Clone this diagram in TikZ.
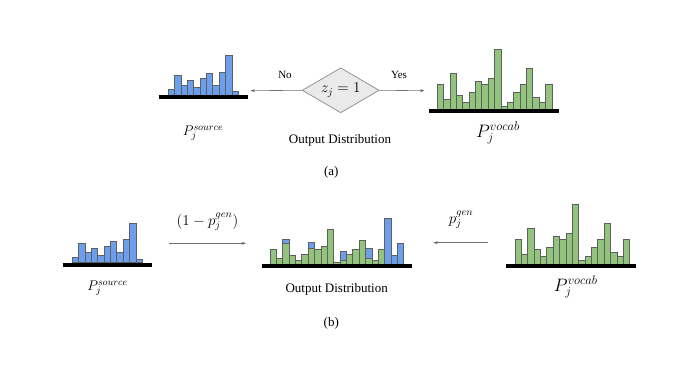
\RequirePackage{fix-cm}
\documentclass[tikz,border=0pt]{standalone}
\usepackage{fontspec}
\setmainfont{Liberation Serif}
\usetikzlibrary{arrows.meta,shapes.geometric}
\definecolor{barblue}{HTML}{6D9EEB}
\definecolor{bargreen}{HTML}{93C47D}
\definecolor{edgegray}{HTML}{5F5F5F}
\definecolor{arrowgray}{HTML}{6E6E6E}
\definecolor{diafill}{HTML}{EAEAEA}
\definecolor{diaedge}{HTML}{8A8A8A}
\tikzset{
  bar/.style={draw=edgegray, line width=0.8pt},
  baseline bar/.style={line width=4pt, black},
  conn/.style={draw=arrowgray, line width=0.6pt, -{Stealth[length=4.5pt,width=3pt]}},
  txt/.style={inner sep=0pt, font=\fontsize{13}{15}\selectfont},
  small/.style={inner sep=0pt, font=\fontsize{11}{13}\selectfont},
}
\newcommand\histbars[4]{%
  \foreach \h [count=\i from 0] in {#4} {
    \draw[bar, fill=#3] ({#1+\i*6.37}, #2) rectangle ++(6.37, -\h);
  }%
}
\begin{document}
\begin{tikzpicture}[x=1pt, y=-1pt]
\useasboundingbox (0,0) rectangle (675,380);

% ---------- (a) ----------
\histbars{168.3}{95}{barblue}{5.3,19.3,10,14.7,7.3,16.7,21.3,10,23,39.3,3.3}
\draw[baseline bar] (159.3,97) -- (247.7,97);
\histbars{437.3}{109.3}{bargreen}{25,10,35.7,14.3,7.3,17,28,25,31,59.7,3.3,7.3,17,25,41,12,7.3,25}
\draw[baseline bar] (429,111.3) -- (559,111.3);

\node[diamond, draw=diaedge, fill=diafill, line width=0.7pt, inner sep=0pt,
      minimum width=77pt, minimum height=45pt, aspect=1.71,
      font=\fontsize{15}{17}\selectfont] (dia) at (340.7,90.3) {$z_j = 1$};
\coordinate (srcA) at (250.5,90.7);
\coordinate (vocA) at (424.5,90.7);
\draw[conn] (dia.west) -- (srcA);
\draw[conn] (dia.east) -- (vocA);
\node[small] (no) at (285,75) {No};
\node[small] (yes) at (399,75) {Yes};

\node[inner sep=0pt, font=\fontsize{14}{16}\selectfont] (psrcA) at (203,133) {$P_j^{source}$};
\node[txt] (outA) at (340,140) {Output Distribution};
\node[inner sep=0pt, font=\fontsize{18}{20}\selectfont] (pvocA) at (498,133) {$P_j^{vocab}$};
\node[txt] (capA) at (331.3,172) {(a)};

% ---------- (b) ----------
\histbars{72.3}{262.7}{barblue}{5.3,19.3,10,14.7,7.3,16.7,21.3,10,23,39.3,3.3}
\draw[baseline bar] (63.3,264.7) -- (151.7,264.7);
\histbars{515}{264}{bargreen}{25,10,35.7,14.3,7.3,17,28,25,31,59.7,3.3,7.3,17,25,41,12,7.3,25}
\draw[baseline bar] (506,266) -- (635.7,266);

% output distribution: green part then blue caps
\histbars{270}{264}{bargreen}{14.7,5.7,20.3,8.3,3.7,9.7,16,14.7,18,34.7,1.7,3.7,9.7,14.7,24,5.7,3.7,14.7}
\foreach \i/\b/\t in {2/20.3/24.7, 6/16/21.7, 11/3.7/12.7, 15/5.7/16, 18/0/45.7, 19/0/8.7, 20/0/20.7}{
  \draw[bar, fill=barblue] ({270+\i*6.37}, {264-\b}) rectangle ++(6.37, {-(\t-\b)});
}
\draw[baseline bar] (261.7,265.8) -- (412.3,265.8);

\coordinate (l1) at (169.3,243.3);
\coordinate (l2) at (246,243.3);
\coordinate (r1) at (488.3,242.7);
\coordinate (r2) at (433.3,242.7);
\draw[conn] (l1) -- (l2);
\draw[conn] (r1) -- (r2);
\node[inner sep=0pt, font=\fontsize{15}{17}\selectfont] (onem) at (207.5,222) {$(1 - p_j^{gen})$};
\node[inner sep=0pt, font=\fontsize{15}{17}\selectfont] (pgen) at (461,220) {$p_j^{gen}$};

\node[inner sep=0pt, font=\fontsize{14}{16}\selectfont] (psrcB) at (107.5,288) {$P_j^{source}$};
\node[txt] (outB) at (336.7,289.3) {Output Distribution};
\node[inner sep=0pt, font=\fontsize{18}{20}\selectfont] (pvocB) at (575.8,287.3) {$P_j^{vocab}$};
\node[txt] (capB) at (331.3,323) {(b)};
\end{tikzpicture}
\end{document}
